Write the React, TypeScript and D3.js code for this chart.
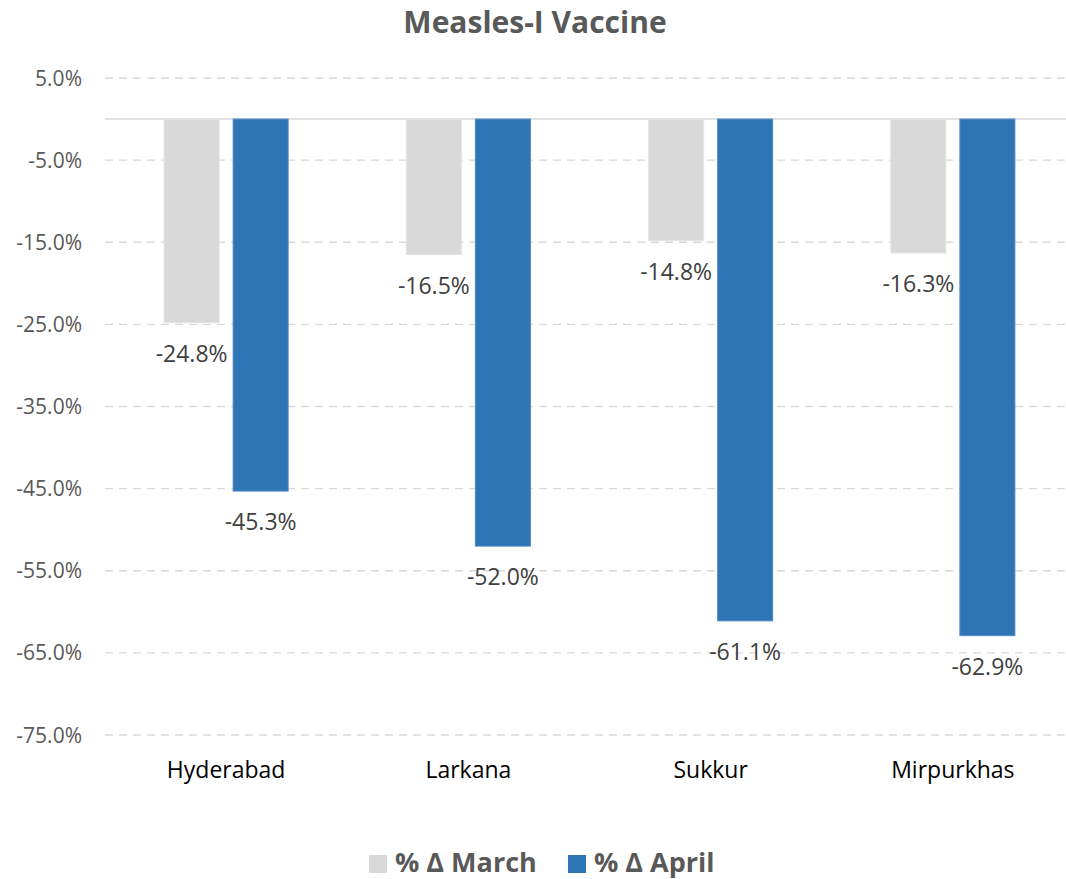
import React from "react";
import * as d3 from "d3";

const title = "Measles-I Vaccine";
const categories = ["Hyderabad", "Larkana", "Sukkur", "Mirpurkhas"];
const seriesNames = ["% Δ March", "% Δ April"];
const marchValues = [-24.8, -16.5, -14.8, -16.3];
const aprilValues = [-45.3, -52.0, -61.1, -62.9];
const yTicks = [5, -5, -15, -25, -35, -45, -55, -65, -75];
const seriesColors = ["#d9d9d9", "#2e75b6"];
const seriesStrokes = ["#e4e4e4", "#5089c6"];

const W = 1066;
const H = 879;
const FONT = "'Open Sans', sans-serif";

const fmt1 = d3.format(".1f");
const pct = (v: number) => fmt1(v).replace("\u2212", "-") + "%";

export default function App() {
  const series = [marchValues, aprilValues];
  const y = d3.scaleLinear().domain([5, -75]).range([78, 735]);
  const x = d3
    .scaleBand<string>()
    .domain(categories)
    .range([105, 1074])
    .paddingInner(0.488)
    .paddingOuter(0.244);
  const xs = d3
    .scaleBand<string>()
    .domain(seriesNames)
    .range([0, x.bandwidth()])
    .paddingInner(0.203)
    .paddingOuter(0);

  const legendItems = [
    { x: 369, textX: 395 },
    { x: 568, textX: 594 },
  ];

  return (
    <svg
      width={W}
      height={H}
      style={{ position: "absolute", left: 0, top: 0, background: "#fff" }}
      fontFamily={FONT}
    >
      <text
        x={535}
        y={33}
        textAnchor="middle"
        fontSize={30}
        fontWeight={700}
        fill="#595959"
      >
        {title}
      </text>

      {yTicks.map((t) => (
        <g key={t}>
          <line
            x1={105}
            x2={W}
            y1={y(t)}
            y2={y(t)}
            stroke="#d9d9d9"
            strokeWidth={1.3}
            strokeDasharray="8,6"
          />
          <text
            x={82}
            y={y(t)}
            dy="0.36em"
            textAnchor="end"
            fontSize={21}
            fill="#595959"
          >
            {pct(t)}
          </text>
        </g>
      ))}
      <line x1={105} x2={W} y1={y(0)} y2={y(0)} stroke="#d9d9d9" strokeWidth={1.5} />

      {categories.map((c, i) => (
        <g key={c} transform={`translate(${x(c)},0)`}>
          {series.map((vals, s) => {
            const v = vals[i];
            const bx = xs(seriesNames[s])!;
            const bw = xs.bandwidth();
            return (
              <g key={s}>
                <rect
                  x={bx}
                  y={y(0)}
                  width={bw}
                  height={y(v) - y(0)}
                  fill={seriesColors[s]}
                  stroke={seriesStrokes[s]}
                  strokeWidth={1}
                />
                <text
                  x={bx + bw / 2}
                  y={y(v) + 39}
                  textAnchor="middle"
                  fontSize={23}
                  fill="#404040"
                >
                  {pct(v)}
                </text>
              </g>
            );
          })}
          <text
            x={x.bandwidth() / 2}
            y={778}
            textAnchor="middle"
            fontSize={23}
            fill="#000"
          >
            {c}
          </text>
        </g>
      ))}

      {seriesNames.map((n, s) => (
        <g key={n}>
          <rect x={legendItems[s].x} y={855} width={18} height={18} fill={seriesColors[s]} />
          <text
            x={legendItems[s].textX}
            y={872}
            fontSize={27}
            fontWeight={700}
            fill="#595959"
          >
            {n}
          </text>
        </g>
      ))}
    </svg>
  );
}
